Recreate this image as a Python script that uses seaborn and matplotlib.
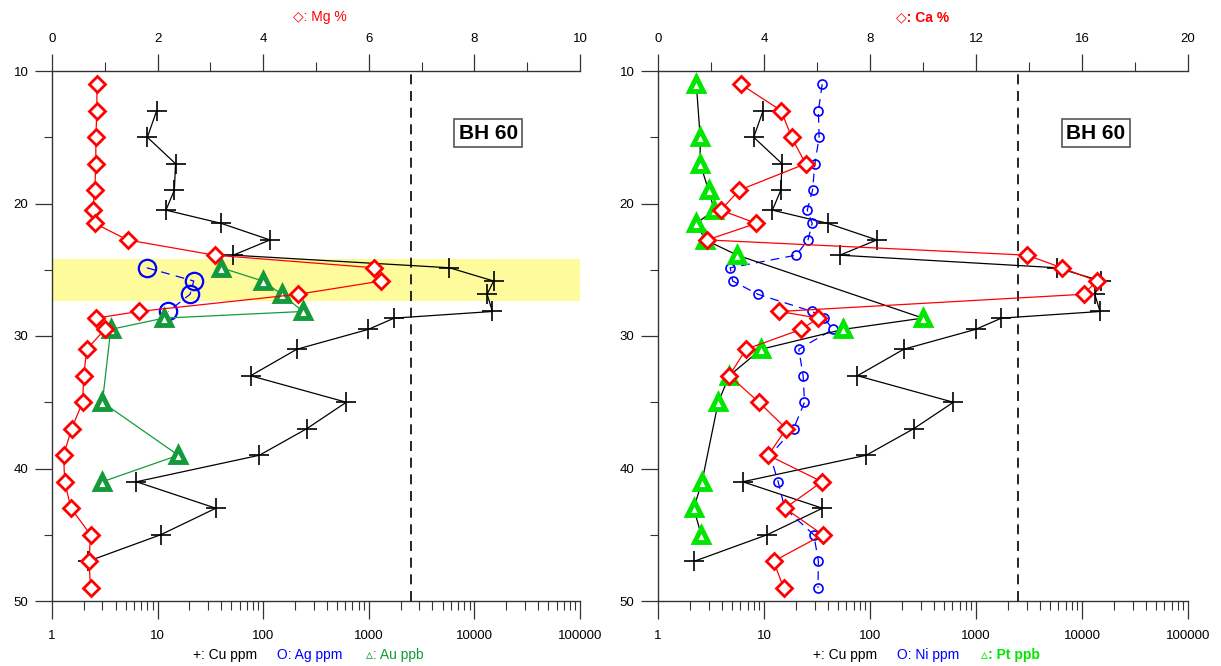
import matplotlib
matplotlib.use("Agg")
import matplotlib.pyplot as plt
import seaborn as sns
from matplotlib.ticker import MultipleLocator, LogLocator, NullFormatter, FuncFormatter

# ---------------- borehole BH 60 geochemistry ----------------
# depths (m) of the sampled intervals
depth_all = [11, 13, 15, 17, 19, 20.5, 21.5, 22.75, 23.9, 24.85, 25.85, 26.85,
             28.15, 28.65, 29.5, 31, 33, 35, 37, 39, 41, 43, 45, 47, 49]

# Mg % and Ca % (top linear axes)
mg_pct = [0.85, 0.85, 0.83, 0.83, 0.81, 0.77, 0.81, 1.43, 3.08, 6.10, 6.24, 4.66,
          1.64, 0.84, 1.00, 0.66, 0.60, 0.58, 0.37, 0.22, 0.24, 0.36, 0.73, 0.70, 0.73]
ca_pct = [3.12, 4.65, 5.04, 5.57, 3.06, 2.37, 3.71, 1.86, 13.94, 15.23, 16.56, 16.06,
          4.58, 6.05, 5.40, 3.32, 2.69, 3.81, 4.84, 4.16, 6.19, 4.79, 6.22, 4.36, 4.74]

# Cu ppm
cu_depth = [13, 15, 17, 19, 20.5, 21.5, 22.75, 23.9, 24.85, 25.85, 26.85, 28.15,
            28.65, 29.5, 31, 33, 35, 37, 39, 41, 43, 45, 47]
cu_ppm = [9.8, 8.0, 14.8, 14.4, 12, 40, 116, 52, 5800, 15200, 13200, 14800,
          1740, 990, 208, 76, 612, 258, 92, 6.3, 35.6, 10.7, 2.2]

# Ag ppm (mineralised zone only)
ag_depth = [24.85, 25.85, 26.85, 28.15]
ag_ppm = [7.9, 22, 20.3, 12.6]

# Au ppb
au_depth = [24.85, 25.85, 26.85, 28.15, 28.65, 29.5, 35, 39, 41]
au_ppb = [40, 99, 150, 238, 11.5, 3.6, 3.0, 15.7, 3.0]

# Ni ppm
ni_ppm = [35.4, 32.6, 33.1, 30.2, 28.7, 25.6, 28.5, 26.0, 20.1, 4.8, 5.06, 8.75,
          28.5, 36.9, 44.7, 21.3, 23.4, 24.1, 19.0, 11.4, 13.6, 15.7, 29.5, 32.6, 32.3]

# Pt ppb
pt_depth = [11, 15, 17, 19, 20.5, 21.5, 22.75, 23.9, 28.65, 29.5, 31, 33, 35, 41, 43, 45]
pt_ppb = [2.3, 2.5, 2.5, 3.0, 3.4, 2.3, 2.8, 5.6, 315, 55.9, 9.4, 4.7, 3.7, 2.6, 2.17, 2.56]

threshold_ppm = 2500          # dashed reference line
ore_zone = (24.2, 27.35)      # highlighted interval (m)

RED = "#ff0000"
BLUE = "#0000ff"
AU_GREEN = "#139a3b"
PT_GREEN = "#00e600"
AXIS = "#333333"

sns.set_style("ticks")
plt.rcParams["font.family"] = ["Liberation Sans", "DejaVu Sans"]
plt.rcParams["axes.edgecolor"] = AXIS
plt.rcParams["text.color"] = "black"
plt.rcParams["xtick.labelcolor"] = "black"
plt.rcParams["ytick.labelcolor"] = "black"

fig = plt.figure(figsize=(12.21, 6.66), dpi=100)
W, H = 1221, 666
ax_l = fig.add_axes([52 / W, 1 - 601 / H, 528 / W, 530 / H])
ax_r = fig.add_axes([658 / W, 1 - 601 / H, 530 / W, 530 / H])


def trace(ax, x, y, line_color, marker, edge, ms, mew, ls="-", lw=0.9, face="white", z=3):
    sns.lineplot(x=x, y=y, ax=ax, sort=False, estimator=None, color=line_color,
                 linewidth=lw, linestyle=ls, marker=marker, markersize=ms,
                 markerfacecolor=face, markeredgecolor=edge, markeredgewidth=mew,
                 zorder=z, legend=False)


def style_axes(ax, top, top_max, top_major, top_minor):
    ax.set_xscale("log")
    ax.set_xlim(1, 100000)
    ax.set_ylim(50, 10)
    top.set_xlim(0, top_max)
    top.set_ylim(50, 10)

    ax.xaxis.set_major_locator(LogLocator(base=10, numticks=10))
    ax.xaxis.set_minor_locator(LogLocator(base=10, subs=range(2, 10), numticks=100))
    ax.xaxis.set_minor_formatter(NullFormatter())
    ax.xaxis.set_major_formatter(FuncFormatter(lambda v, p: f"{int(round(v))}"))
    ax.yaxis.set_major_locator(MultipleLocator(10))
    ax.yaxis.set_minor_locator(MultipleLocator(5))
    ax.tick_params(axis="x", which="major", length=13, width=0.9, color=AXIS,
                   labelsize=9.5, labelcolor="black", pad=8, direction="out")
    ax.tick_params(axis="x", which="minor", length=6.5, width=0.8, color=AXIS, direction="out")
    ax.tick_params(axis="y", which="major", length=12, width=0.9, color=AXIS,
                   labelsize=9.5, labelcolor="black", pad=5, direction="out",
                   left=True, right=False)
    ax.tick_params(axis="y", which="minor", length=6, width=0.8, color=AXIS,
                   direction="out", left=True, right=False)

    top.xaxis.set_major_locator(MultipleLocator(top_major))
    top.xaxis.set_minor_locator(MultipleLocator(top_minor))
    top.tick_params(axis="x", which="major", length=12, width=0.9, color=AXIS,
                    labelsize=9.5, labelcolor="black", pad=7, direction="out")
    top.tick_params(axis="x", which="minor", length=6.5, width=0.8, color=AXIS, direction="out")
    top.tick_params(axis="y", left=False, right=False, labelleft=False, labelright=False)

    for a in (ax, top):
        a.set_xlabel("")
        a.set_ylabel("")
        a.grid(False)
    ax.spines["top"].set_visible(False)
    ax.spines["right"].set_visible(False)
    for s in ("left", "right", "bottom"):
        top.spines[s].set_visible(False)
    for a, s in ((ax, "left"), (ax, "bottom"), (top, "top")):
        a.spines[s].set_color(AXIS)
        a.spines[s].set_linewidth(1.0)

    ax.axvline(threshold_ppm, color="black", lw=1.2, ls=(0, (6, 4)), zorder=2)
    ax.text(0.826, 0.883, "BH 60", transform=ax.transAxes, ha="center", va="center",
            fontsize=15, fontweight="bold", color="black", zorder=6,
            bbox=dict(boxstyle="square,pad=0.22", fc="white", ec="#555555", lw=1.2))


# ---------------- left panel: Mg, Cu, Ag, Au ----------------
ax_l.set_xscale("log")
ax_l.axhspan(*ore_zone, color="#fdfb9c", zorder=0, lw=0)
trace(ax_l, cu_ppm, cu_depth, "black", "+", "black", 14, 1.2)
trace(ax_l, ag_ppm, ag_depth, BLUE, "o", BLUE, 12.5, 1.6, ls=(0, (7, 5)), face="none")
trace(ax_l, au_ppb, au_depth, AU_GREEN, "^", AU_GREEN, 9.5, 3.5)
top_l = ax_l.twiny()
trace(top_l, mg_pct, depth_all, RED, "D", RED, 8.2, 2.0)
style_axes(ax_l, top_l, 10, 2, 1)

# ---------------- right panel: Ca, Cu, Ni, Pt ----------------
ax_r.set_xscale("log")
trace(ax_r, cu_ppm, cu_depth, "black", "+", "black", 14, 1.2)
trace(ax_r, ni_ppm, depth_all, BLUE, "o", BLUE, 6.5, 1.2, ls=(0, (7, 5)), face="none")
trace(ax_r, pt_ppb, pt_depth, "black", "^", PT_GREEN, 9.5, 3.5)
top_r = ax_r.twiny()
trace(top_r, ca_pct, depth_all, RED, "D", RED, 8.2, 2.0)
style_axes(ax_r, top_r, 20, 4, 2)

# ---------------- axis captions ----------------
fig.text(320 / W, 1 - 17 / H, "◇: Mg %", color=RED, ha="center", va="center", fontsize=10)
fig.text(923 / W, 1 - 17 / H, "◇: Ca %", color=RED, ha="center", va="center",
         fontsize=10, fontweight="bold")

ycap = 1 - 655 / H
for xc, txt, col, wt in [(225, "+: Cu ppm", "black", "normal"),
                         (310, "O: Ag ppm", BLUE, "normal"),
                         (395, "▵: Au ppb", AU_GREEN, "normal"),
                         (845, "+: Cu ppm", "black", "normal"),
                         (928, "O: Ni ppm", BLUE, "normal"),
                         (1010, "▵: Pt ppb", PT_GREEN, "bold")]:
    fig.text(xc / W, ycap, txt, color=col, ha="center", va="center", fontsize=10,
             fontweight=wt)

fig.savefig("out.png", dpi=100, facecolor="white")
